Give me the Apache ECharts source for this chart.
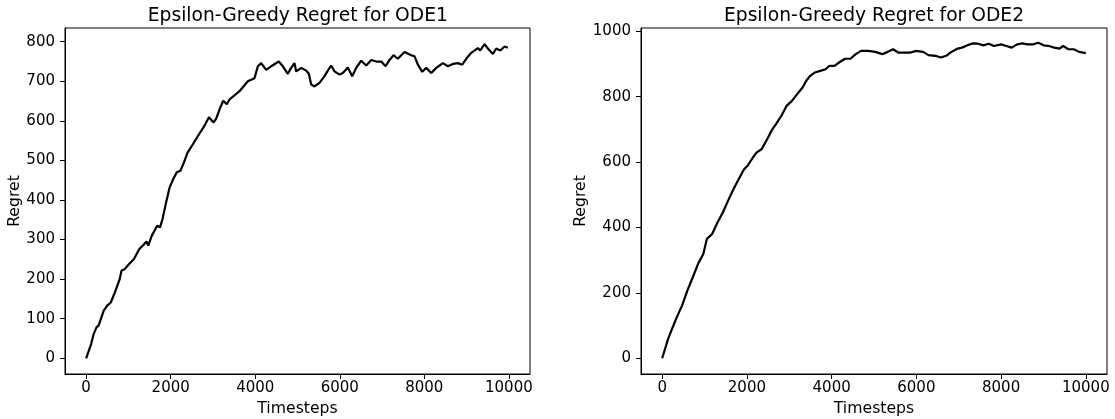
<!DOCTYPE html>
<html>
<head>
<meta charset="utf-8">
<script src="https://cdn.jsdelivr.net/npm/echarts@6/dist/echarts.min.js"></script>
<style>
html,body{margin:0;padding:0;background:#fff;}
#chart{width:1115px;height:419px;}
</style>
</head>
<body>
<div id="chart"></div>
<script>
// ---- Data ----
const ode1Steps = [0,118,177,245,296,414,498,583,667,794,836,920,1005,1132,1258,1343,1427,1470,1554,1681,1748,1807,1892,1976,2061,2145,2230,2314,2399,2525,2652,2779,2905,2948,3015,3074,3159,3243,3328,3391,3628,3825,3983,4062,4140,4259,4377,4558,4653,4771,4850,4929,4969,5088,5206,5268,5324,5402,5521,5639,5718,5797,5876,5994,6073,6191,6294,6389,6507,6625,6744,6862,6981,7083,7177,7272,7373,7532,7690,7769,7848,7951,8046,8164,8282,8439,8557,8675,8794,8897,8992,9110,9267,9323,9425,9503,9622,9702,9796,9898,9976];
const ode1Regret = [0,36,61,78,83,120,133,141,163,200,221,226,237,251,276,285,295,285,310,335,331,352,394,432,453,470,474,495,520,541,563,584,609,613,596,605,630,651,642,654,675,700,708,738,746,729,738,750,738,719,734,746,725,734,727,719,692,687,696,713,727,740,725,717,721,735,713,734,752,740,754,750,750,738,754,766,757,774,766,763,742,724,734,721,734,746,738,744,746,742,757,772,784,778,794,783,769,783,778,788,785];

const ode2Steps = [0,92,134,218,343,469,594,720,845,971,1054,1180,1305,1431,1556,1682,1808,1933,2017,2142,2226,2351,2477,2603,2686,2812,2937,3063,3188,3314,3398,3481,3607,3732,3858,3941,4067,4192,4318,4444,4569,4695,4862,5029,5197,5322,5448,5573,5741,5866,5992,6159,6285,6452,6577,6703,6828,6954,7079,7205,7331,7456,7582,7707,7833,8000,8126,8251,8377,8502,8628,8753,8879,9004,9130,9255,9381,9464,9590,9715,9841,10000];
const ode2Regret = [0,39,57,85,125,161,207,247,288,319,365,380,415,446,482,517,548,578,589,614,629,640,670,701,716,741,772,787,808,828,848,862,874,879,884,894,894,906,916,916,930,940,940,937,930,937,945,935,935,935,940,937,927,925,920,925,937,946,950,957,963,962,957,962,955,960,955,950,960,963,960,960,965,957,955,950,947,955,945,945,937,933];

const xTicks = [0,2000,4000,6000,8000,10000];
const y1Ticks = [0,100,200,300,400,500,600,700,800];
const y2Ticks = [0,200,400,600,800,1000];

const titles = ['Epsilon-Greedy Regret for ODE1','Epsilon-Greedy Regret for ODE2'];
const xName = 'Timesteps';
const yName = 'Regret';

// ---- Chart ----
const FONT = 'DejaVu Sans';
const chart = echarts.init(document.getElementById('chart'), null, {renderer:'canvas'});

const grids = [
  {left:65, top:28, width:465, height:346},
  {left:641, top:28, width:466, height:346}
];
const plain = v => String(v);

function xAxis(i){
  return {
    type:'value', gridIndex:i, min:-500, max:10500,
    name:xName, nameLocation:'middle', nameGap:27,
    nameTextStyle:{fontFamily:FONT, fontSize:15.7, color:'#000'},
    axisLine:{show:true, onZero:false, lineStyle:{color:'#000', width:1}},
    axisTick:{show:true, length:5, lineStyle:{color:'#000', width:1}, customValues:xTicks},
    axisLabel:{show:true, margin:7, fontFamily:FONT, fontSize:15, color:'#000', customValues:xTicks, formatter:plain},
    splitLine:{show:false}
  };
}
function yAxis(i, min, max, ticks, gap){
  return {
    type:'value', gridIndex:i, min:min, max:max,
    name:yName, nameLocation:'middle', nameGap:gap,
    nameTextStyle:{fontFamily:FONT, fontSize:15.7, color:'#000'},
    axisLine:{show:true, onZero:false, lineStyle:{color:'#000', width:1}},
    axisTick:{show:true, length:5, lineStyle:{color:'#000', width:1}, customValues:ticks},
    axisLabel:{show:true, margin:10, fontFamily:FONT, fontSize:15, color:'#000', customValues:ticks, formatter:plain},
    splitLine:{show:false}
  };
}

const option = {
  animation:false,
  backgroundColor:'#fff',
  grid: grids.map(g => Object.assign({show:true, borderColor:'#000', borderWidth:1, containLabel:false, outerBoundsMode:'none'}, g)),
  xAxis:[xAxis(0), xAxis(1)],
  yAxis:[yAxis(0, -39.75, 834.75, y1Ticks, 38), yAxis(1, -48.1, 1010, y2Ticks, 43)],
  graphic:[
    {type:'text', x:297.8, y:16, style:{text:titles[0], fontFamily:FONT, fontSize:18.7, fill:'#000', align:'center', verticalAlign:'middle'}},
    {type:'text', x:874, y:16, style:{text:titles[1], fontFamily:FONT, fontSize:18.7, fill:'#000', align:'center', verticalAlign:'middle'}}
  ],
  series:[
    {type:'line', xAxisIndex:0, yAxisIndex:0, showSymbol:false, symbol:'none',
     lineStyle:{color:'#000', width:2.2}, data: ode1Steps.map((t,k)=>[t, ode1Regret[k]])},
    {type:'line', xAxisIndex:1, yAxisIndex:1, showSymbol:false, symbol:'none',
     lineStyle:{color:'#000', width:2.2}, data: ode2Steps.map((t,k)=>[t, ode2Regret[k]])}
  ]
};
chart.setOption(option);
</script>
</body>
</html>
